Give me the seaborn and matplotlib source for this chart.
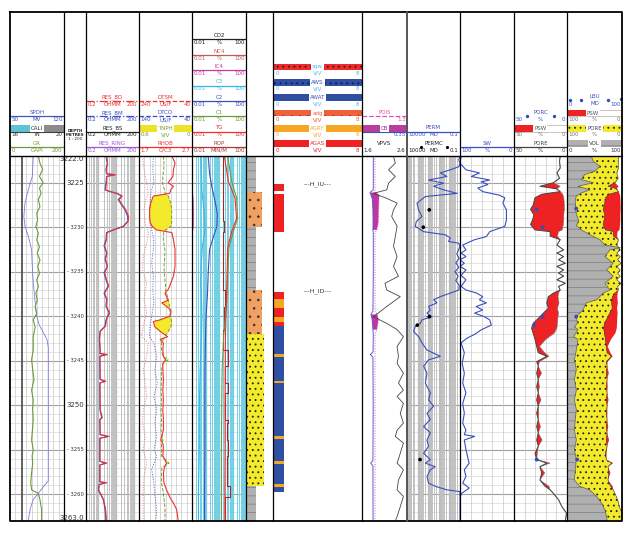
import numpy as np
import seaborn as sns
import matplotlib.pyplot as plt
from matplotlib.patches import Rectangle

sns.set_theme(style='white')
plt.rcParams['font.family'] = ['DejaVu Sans']
plt.rcParams['hatch.linewidth'] = 0.6

# ------------------------------------------------------------------ data
# track 1 : GR / SPDH / CALI
gr_depth = [3222.0, 3222.8, 3223.5, 3224.3, 3225.0, 3225.6, 3226.2, 3226.9, 3227.7, 3228.4,
            3229.2, 3229.9, 3230.7, 3231.4, 3232.2, 3232.9, 3233.7, 3234.4, 3235.2, 3235.9,
            3236.7, 3237.4, 3238.2, 3238.9, 3239.7, 3240.4, 3241.2, 3242.3, 3243.8, 3244.9,
            3246.0, 3247.1, 3248.3, 3249.4, 3250.5, 3251.6, 3252.8, 3253.9, 3255.0, 3255.7,
            3256.5, 3257.6, 3258.7, 3259.5, 3259.9, 3260.6, 3261.7, 3263.0]
gr = [105, 111, 121, 109, 123, 109, 115, 105, 111, 99,
      102, 96, 105, 99, 109, 101, 111, 103, 109, 99,
      105, 96, 101, 93, 99, 86, 93, 86, 86, 80,
      84, 89, 80, 86, 84, 86, 83, 80, 86, 82,
      84, 80, 77, 80, 105, 111, 117, 117]
sp_depth = [3222.0, 3224.3, 3225.8, 3227.3, 3228.8, 3229.9, 3231.0, 3232.5, 3234.4, 3236.3,
            3238.2, 3240.0, 3241.0, 3241.8, 3242.6, 3243.5, 3250.0, 3258.5, 3259.2, 3259.9,
            3260.6, 3261.7, 3263.0]
sp = [80.2, 78.9, 73.7, 69.4, 68.0, 69.4, 73.7, 78.0, 78.9, 80.2,
      82.4, 84.6, 88.0, 93.0, 98.0, 99.6, 99.6, 99.6, 92.8, 86.7,
      80.0, 76.0, 73.7]
cali_depth = [3222.0, 3263.0]
cali = [16.9, 16.9]

# track 3 : resistivity
res_depth = [3222.0, 3222.8, 3223.5, 3224.0, 3224.1, 3224.3, 3225.0, 3225.8, 3226.0, 3226.2,
             3226.5, 3226.9, 3227.5, 3228.0, 3228.8, 3229.3, 3229.9, 3230.3, 3230.6, 3231.4,
             3232.1, 3232.9, 3233.6, 3234.4, 3235.1, 3235.9, 3236.6, 3237.4, 3238.1, 3238.9,
             3239.6, 3240.4, 3241.1, 3241.7, 3242.6, 3243.8, 3244.2, 3244.3, 3244.5, 3247.1,
             3247.3, 3247.5, 3250.5, 3251.4, 3251.6, 3253.3, 3253.5, 3253.7, 3256.3, 3256.5,
             3256.7, 3258.6, 3258.7, 3258.9, 3259.5, 3260.2, 3260.6, 3261.7, 3263.0]
res_bm = [2.7, 3.2, 2.7, 2.9, 8.6, 2.9, 2.7, 2.4, 4.5, 10.9,
          20.7, 13.3, 20.7, 31.6, 46, 47, 25.6, 7.0, 2.9, 2.7,
          2.1, 2.9, 2.4, 3.2, 2.1, 2.7, 3.6, 2.1, 2.9, 2.7,
          4.1, 2.7, 2.4, 1.23, 1.13, 1.23, 1.2, 2.9, 1.2, 1.23,
          2.4, 1.2, 1.23, 1.54, 1.2, 1.23, 3.6, 1.2, 1.2, 2.7,
          1.2, 1.2, 2.7, 1.1, 1.0, 1.5, 1.9, 2.4, 2.7]
res_bd = [2.9, 3.4, 2.8, 3.0, 9.5, 3.0, 2.9, 2.6, 5.0, 12.0,
          23.0, 15.0, 23.0, 35.0, 52, 50, 28.0, 7.6, 3.1, 2.9,
          2.3, 3.1, 2.6, 3.4, 2.3, 2.9, 3.9, 2.3, 3.1, 2.9,
          4.4, 2.9, 2.6, 1.3, 1.2, 1.3, 1.25, 3.3, 1.25, 1.3,
          2.7, 1.25, 1.3, 1.7, 1.25, 1.3, 4.0, 1.25, 1.25, 3.0,
          1.25, 1.25, 3.0, 1.15, 1.05, 1.6, 2.0, 2.6, 2.9]

# track 4 : sonic / density / neutron
d4 = [3222.0, 3222.8, 3223.5, 3224.3, 3225.0, 3225.4, 3225.8, 3226.2, 3226.5, 3227.3,
      3228.0, 3228.8, 3229.5, 3229.9, 3230.3, 3230.6, 3231.4, 3232.5, 3233.6, 3234.4,
      3235.5, 3236.6, 3237.0, 3237.4, 3237.8, 3238.2, 3238.5, 3238.9, 3239.3, 3239.6,
      3240.0, 3240.4, 3240.6, 3240.8, 3241.2, 3241.7, 3242.3, 3242.6, 3243.0, 3243.8,
      3244.5, 3244.9, 3245.3, 3246.0, 3247.1, 3248.3, 3249.4, 3250.5, 3251.6, 3252.8,
      3253.9, 3254.3, 3254.7, 3255.7, 3256.5, 3257.0, 3257.6, 3258.7, 3259.5, 3260.3,
      3261.0, 3261.7, 3263.0]
rhob = [2.32, 2.38, 2.35, 2.34, 2.25, 2.35, 2.30, 2.28, 1.97, 1.92,
        1.90, 1.90, 1.91, 1.95, 2.03, 2.32, 2.35, 2.38, 2.38, 2.38,
        2.35, 2.28, 2.25, 2.19, 2.22, 2.25, 2.13, 2.22, 2.30, 2.30,
        2.28, 2.10, 1.97, 1.98, 2.00, 2.10, 2.24, 2.10, 2.16, 2.15,
        2.16, 2.20, 2.15, 2.15, 2.16, 2.15, 2.16, 2.15, 2.16, 2.16,
        2.11, 2.15, 2.16, 2.15, 2.22, 2.18, 2.16, 2.17, 2.22, 2.28,
        2.35, 2.41, 2.44]
tnph = [0.325, 0.317, 0.320, 0.330, 0.332, 0.325, 0.310, 0.306, 0.268, 0.240,
        0.230, 0.230, 0.230, 0.235, 0.300, 0.320, 0.325, 0.306, 0.310, 0.317,
        0.310, 0.300, 0.300, 0.287, 0.280, 0.268, 0.260, 0.255, 0.250, 0.249,
        0.245, 0.235, 0.230, 0.230, 0.240, 0.268, 0.310, 0.325, 0.345, 0.345,
        0.330, 0.270, 0.330, 0.345, 0.345, 0.350, 0.345, 0.350, 0.345, 0.350,
        0.330, 0.345, 0.345, 0.345, 0.260, 0.340, 0.345, 0.345, 0.330, 0.320,
        0.310, 0.306, 0.306]
dtsm_depth = [3222.0, 3223.5, 3225.0, 3226.2, 3226.9, 3228.0, 3229.5, 3230.6, 3231.8, 3233.3,
              3234.8, 3236.3, 3238.1, 3239.6, 3241.1, 3242.3, 3243.0, 3244.5, 3246.0, 3247.5,
              3249.0, 3250.5, 3252.0, 3253.5, 3255.0, 3256.5, 3258.0, 3259.5, 3261.0, 3263.0]
dtsm = [226, 221, 211, 205, 214, 221, 217, 205, 211, 224,
        226, 211, 221, 211, 224, 230, 205, 211, 224, 217,
        211, 224, 226, 217, 224, 211, 221, 224, 224, 224]
dtco_depth = [3222.0, 3223.5, 3225.0, 3226.2, 3227.3, 3228.8, 3230.3, 3231.4, 3232.5, 3234.0,
              3235.5, 3237.0, 3238.5, 3240.0, 3241.1, 3242.3, 3243.0, 3244.5, 3246.0, 3247.5,
              3249.0, 3250.5, 3252.0, 3253.5, 3255.0, 3255.7, 3257.2, 3258.7, 3260.2, 3261.7,
              3263.0]
dtco = [113, 114, 112, 118, 119, 120.5, 116, 112, 113, 116,
        113, 114, 112, 116, 119, 120.5, 112, 106.6, 110, 105.5,
        112, 106.6, 110, 106.6, 112, 106.6, 116, 112, 110, 106.6,
        108]

# track 5 : gas / ROP
c3_depth = [3222, 3224, 3226, 3227.5, 3229, 3230.5, 3232, 3234, 3236.3, 3238, 3240, 3242.3,
            3246, 3250, 3255, 3260, 3263]
c3 = [0.045, 0.05, 0.055, 0.07, 0.085, 0.09, 0.06, 0.05, 0.045, 0.05, 0.055, 0.05,
      0.04, 0.035, 0.035, 0.03, 0.03]
c2_depth = [3222, 3224, 3225.5, 3227, 3228.5, 3229.9, 3231, 3232.5, 3235, 3237.5, 3240, 3242.3,
            3246, 3250, 3255, 3260, 3263]
c2 = [0.16, 0.2, 0.3, 0.5, 0.75, 0.7, 0.4, 0.2, 0.16, 0.14, 0.11, 0.1,
      0.092, 0.09, 0.09, 0.085, 0.085]
hc_depth = [3222, 3224.85, 3226.7, 3229, 3230.5, 3232.3, 3235, 3238, 3240, 3242.3,
            3246, 3250, 3255, 3260, 3263]
tg = [2.5, 4.9, 15.4, 20, 8.7, 4.4, 4.0, 3.6, 3.3, 3.0, 2.9, 2.8, 2.8, 2.7, 2.7]
c1 = [4.4, 8.7, 20, 24, 11.4, 5.5, 4.5, 3.8, 3.0, 2.2, 1.7, 1.6, 1.5, 1.5, 1.5]
rop_top = [3222.0, 3226.3, 3229.3, 3230.5, 3232.5, 3237.0, 3239.0, 3241.5, 3243.8, 3245.6,
           3247.5, 3248.6, 3251.6, 3252.0, 3253.9, 3255.75, 3259.1, 3260.25, 3263.0]
rop = [1.9, 2.1, 2.5, 1.9, 2.1, 2.8, 2.5, 2.1, 4.9, 2.8,
       4.9, 2.8, 4.9, 3.7, 4.9, 3.7, 6.5, 2.8, 2.8]
ic4_depth = [3226.0, 3227.0, 3228.5, 3230.0, 3230.6]
ic4 = [0.0105, 0.012, 0.0125, 0.012, 0.0105]

# track 6 : lithology column
litho_top = [3222.0, 3226.0, 3230.0, 3237.0, 3242.0, 3259.1]
litho_base = [3226.0, 3230.0, 3237.0, 3242.0, 3259.1, 3263.0]
litho_kind = ['shale', 'sand_o', 'shale', 'sand_o', 'sand_y', 'shale']

# track 7 : fluid flags and markers
flag_top = [3225.2, 3226.3, 3237.3, 3238.1, 3239.1, 3240.1, 3240.6, 3241.1,
            3244.25, 3247.25, 3253.45, 3256.25, 3258.85]
flag_base = [3225.9, 3230.5, 3238.1, 3239.1, 3240.1, 3240.6, 3241.1, 3259.7,
             3244.55, 3247.55, 3253.75, 3256.55, 3259.15]
flag_kind = ['AGAS', 'AGAS', 'AGAS', 'AGRY', 'AGAS', 'AGRY', 'AGAS', 'AWAT',
             'AGRY', 'AGRY', 'AGRY', 'AGRY', 'AGRY']
marker_names = ['---H_IU---', '---H_ID---']
marker_depth = [3225.2, 3237.2]

# track 8 : CB / POIS / VPVS
d8 = [3222.0, 3225.8, 3226.1, 3226.4, 3226.8, 3228.0, 3229.5, 3230.3, 3230.6, 3231.0,
      3235.0, 3239.4, 3239.8, 3240.3, 3240.8, 3241.5, 3242.0, 3244.0, 3244.3, 3244.6,
      3250.0, 3256.2, 3256.5, 3256.8, 3263.0]
cb = [0.088, 0.088, 0.062, 0.070, 0.080, 0.085, 0.086, 0.085, 0.088, 0.088,
      0.088, 0.085, 0.070, 0.078, 0.082, 0.085, 0.088, 0.086, 0.065, 0.085,
      0.087, 0.085, 0.068, 0.085, 0.086]
pois = [0.376, 0.376, 0.40, 0.50, 0.49, 0.48, 0.47, 0.43, 0.376, 0.376,
        0.376, 0.376, 0.44, 0.47, 0.46, 0.43, 0.376, 0.376, 0.376, 0.376,
        0.376, 0.376, 0.376, 0.376, 0.376]
vpvs_depth = [3222.05, 3222.8, 3223.55, 3224.3, 3225.05, 3225.8, 3226.2, 3226.75, 3227.3, 3228.05,
              3228.8, 3229.9, 3231.05, 3232.15, 3233.3, 3234.4, 3235.5, 3236.3, 3237.05, 3237.8,
              3238.9, 3239.65, 3240.05, 3240.8, 3241.5, 3242.3, 3243.4, 3244.5, 3245.3, 3246.4,
              3247.5, 3248.3, 3249.0, 3249.8, 3250.9, 3252.0, 3252.8, 3253.5, 3254.25, 3255.4,
              3256.5, 3257.25, 3258.4, 3259.5, 3260.25, 3261.4, 3262.5, 3263.0]
vpvs = [2.30, 2.34, 2.19, 2.34, 2.19, 2.15, 1.85, 2.15, 2.38, 2.30,
        2.26, 2.38, 2.34, 2.30, 2.38, 2.30, 2.41, 2.11, 2.15, 2.45,
        2.15, 1.96, 1.85, 2.15, 2.38, 2.52, 2.38, 2.41, 2.38, 2.52,
        2.41, 2.52, 2.38, 2.52, 2.45, 2.52, 2.38, 2.34, 2.52, 2.45,
        2.38, 2.52, 2.41, 2.38, 2.52, 2.45, 2.38, 2.34]

# track 9 : permeability
perm_depth = [3222.0, 3222.4, 3222.9, 3223.2, 3223.55, 3223.9, 3224.3, 3224.7, 3225.05, 3225.4,
              3225.8, 3226.2, 3226.55, 3227.3, 3228.05, 3228.8, 3229.35, 3229.9, 3230.5, 3230.85,
              3231.2, 3231.6, 3231.8, 3232.15, 3233.0, 3233.5, 3234.0, 3234.5, 3235.0, 3235.5,
              3236.0, 3236.5, 3237.05, 3237.4, 3237.8, 3238.15, 3238.5, 3238.9, 3239.3, 3239.65,
              3240.05, 3240.4, 3240.8, 3241.15, 3241.7, 3242.3, 3243.0, 3243.8, 3244.5, 3244.9,
              3245.6, 3246.4, 3247.5, 3248.6, 3249.4, 3250.1, 3250.9, 3251.6, 3252.4, 3253.1,
              3253.9, 3254.6, 3255.4, 3256.1, 3256.5, 3256.9, 3257.25, 3258.0, 3258.75, 3259.1,
              3259.5, 3259.7, 3263.0]
perm = [0.1, 0.13, 0.1, 0.13, 0.82, 7.2, 1.7, 92, 3.5, 31,
        3.5, 0.19, 186, 1140, 800, 385, 1330, 1650, 270, 2.4,
        0.82, 1.2, 0.13, 0.1, 0.2, 0.12, 0.25, 0.13, 0.3, 0.15,
        0.25, 0.12, 0.13, 0.82, 7.2, 31, 15, 92, 63, 130,
        44, 385, 560, 1650, 2380, 800, 385, 130, 7.2, 92,
        270, 130, 186, 63, 92, 31, 130, 63, 270, 63,
        130, 92, 270, 63, 186, 22, 63, 130, 92, 22,
        1.7, 0.1, 0.1]
permc_depth = [3228.05, 3230.0, 3240.05, 3241.0, 3256.1]
permc = [79, 290, 79, 1070, 590]

# track 10 : water saturation
sw_depth = [3222.05, 3222.8, 3223.55, 3223.9, 3224.3, 3224.7, 3224.9, 3225.2, 3225.6, 3226.0,
            3226.4, 3226.7, 3227.3, 3228.05, 3229.2, 3229.9, 3230.5, 3231.05, 3231.4, 3232.0,
            3232.55, 3232.9, 3233.3, 3233.65, 3234.05, 3234.4, 3234.8, 3235.4, 3235.9, 3236.65,
            3237.05, 3237.4, 3237.8, 3238.15, 3238.5, 3238.9, 3239.3, 3239.65, 3240.05, 3240.4,
            3241.0, 3241.5, 3242.0, 3242.5, 3243.0, 3244.1, 3245.3, 3246.4, 3247.5, 3248.6,
            3249.8, 3250.9, 3252.0, 3252.8, 3253.3, 3253.5, 3253.9, 3255.0, 3256.5, 3257.25,
            3258.0, 3258.75, 3259.3, 3259.9, 3260.25, 3263.0]
sw = [98, 100, 89, 64, 79, 45, 61, 48.5, 67, 58,
      27, 17, 20.5, 14, 14, 17, 45, 51, 73, 95,
      89, 98, 89, 100, 92, 100, 89, 98, 89, 98,
      89, 69, 58, 64, 51, 70, 58, 73, 55, 45,
      42, 60, 72, 88, 98, 92, 96, 92, 95, 89,
      95, 92, 95, 89, 92, 73, 92, 89, 83, 92,
      89, 95, 83, 97, 100, 100]

# tracks 11-12 : porosity, water-filled porosity, shale volume
pore_depth = [3222.0, 3222.6, 3223.35, 3223.9, 3224.5, 3225.0, 3225.4, 3225.7, 3226.0, 3226.3,
              3226.7, 3227.5, 3228.0, 3228.6, 3229.15, 3229.7, 3230.3, 3230.5, 3231.0, 3231.4,
              3232.0, 3232.55, 3232.9, 3233.3, 3233.65, 3234.05, 3234.4, 3234.8, 3235.15, 3235.5,
              3235.9, 3236.3, 3236.65, 3237.05, 3237.4, 3237.8, 3238.5, 3239.1, 3239.65, 3240.05,
              3240.8, 3241.35, 3241.9, 3242.6, 3243.4, 3244.1, 3244.5, 3245.1, 3245.6, 3246.4,
              3247.1, 3247.9, 3248.6, 3249.4, 3250.1, 3250.9, 3251.6, 3252.4, 3253.1, 3253.9,
              3254.6, 3255.4, 3256.1, 3256.5, 3256.9, 3257.6, 3258.4, 3259.1, 3259.5, 3259.9,
              3260.6, 3261.4, 3262.1, 3263.0]
pore = [6.4, 7.0, 6.4, 9.5, 7.0, 12.8, 25.5, 9.5, 6.4, 23.9,
        30.2, 31.9, 34.4, 31.2, 32.4, 34.4, 30.2, 15.9, 15.9, 6.4,
        9.5, 3.2, 9.5, 3.2, 8.0, 1.6, 9.5, 3.2, 8.0, 3.2,
        9.5, 1.6, 8.0, 6.4, 12.8, 17.6, 19.1, 17.6, 22.3, 25.5,
        31.9, 33.4, 31.9, 30.2, 28.6, 27.1, 19.1, 28.6, 27.1, 28.6,
        27.1, 28.6, 27.1, 28.6, 27.1, 28.6, 27.1, 28.6, 27.1, 28.6,
        27.1, 30.2, 28.6, 19.1, 25.5, 23.9, 25.5, 20.7, 15.9, 12.8,
        8.0, 4.8, 0.5, 1.6]
psw = [6.4, 7.0, 6.4, 9.5, 7.0, 12.8, 6.4, 9.5, 6.4, 4.0,
       3.0, 2.5, 2.5, 3.0, 3.0, 3.5, 4.5, 8.0, 9.0, 6.4,
       9.5, 3.2, 9.5, 3.2, 8.0, 1.6, 9.5, 3.2, 8.0, 3.2,
       9.5, 1.6, 8.0, 6.4, 8.0, 8.5, 7.5, 9.0, 8.0, 8.5,
       9.0, 9.5, 12.0, 20.0, 26.0, 21.0, 17.0, 26.0, 27.1, 24.0,
       27.1, 26.0, 27.1, 24.5, 27.1, 26.5, 27.1, 25.0, 27.1, 23.5,
       27.1, 28.0, 28.6, 16.0, 25.5, 21.0, 25.5, 17.0, 15.9, 12.8,
       8.0, 4.8, 0.5, 1.6]
vsh_depth = [3222.0, 3222.6, 3223.15, 3223.7, 3224.1, 3224.65, 3225.0, 3225.4, 3225.8, 3226.15,
             3226.5, 3227.0, 3227.85, 3228.5, 3229.3, 3229.8, 3230.3, 3230.85, 3231.4, 3232.0,
             3232.15, 3232.3, 3232.55, 3233.3, 3234.05, 3234.8, 3235.5, 3236.3, 3237.05, 3237.4,
             3238.15, 3238.5, 3238.9, 3239.3, 3240.05, 3240.8, 3241.15, 3241.5, 3242.3, 3242.6,
             3243.8, 3244.9, 3246.0, 3247.1, 3248.3, 3249.4, 3250.5, 3251.6, 3252.8, 3253.9,
             3255.0, 3256.1, 3257.3, 3258.4, 3259.1, 3259.5, 3260.25, 3261.0, 3261.75, 3262.5,
             3263.0]
vsh = [44, 48, 60, 51, 32, 26, 48, 20, 42, 26,
       17, 15, 15.4, 17, 21.5, 17, 26, 42, 60, 69,
       84, 97, 78, 69, 84, 72, 84, 69, 78, 66,
       54, 35, 32, 29, 17, 19, 13.5, 20, 12, 20,
       17, 13.5, 17, 13.5, 17, 13.5, 17, 15, 13.5, 17,
       13.5, 17, 15, 13.5, 23, 41, 54, 63, 69, 72,
       73]
porc_depth = [3228.0, 3230.0, 3240.05, 3241.0, 3256.1]
porc = [28.6, 22.9, 22.9, 30.8, 28.6]
lbu_depth = [3227.9, 3240.05, 3256.1]
lbu = [16.7, 16.7, 18.5]

depth_ticks = [3222.0, 3225, 3230, 3235, 3240, 3245, 3250, 3255, 3260, 3263.0]
depth_text = ['3222.0', '3225', '- 3230', '- 3235', '- 3240', '- 3245', '3250', '- 3255',
              '- 3260', '3263.0']
depth_big = [True, True, False, False, False, False, True, False, False, True]

# ------------------------------------------------------------------ layout
W, H = 635, 534
TOP, SEP, BOT = 12, 156, 521
TOP_D, BOT_D = 3222.0, 3263.0
edges = [10, 64, 86, 139, 192, 246, 273, 362, 407, 460, 514, 567, 622]
ROW = [39.3, 54.8, 70.1, 85.5, 100.7, 116.3, 131.5, 146.9]
FS = 4.0

BLUE = '#3a4fc0'
RED = '#ee3030'
GREEN = '#6f9a3c'
CYAN = '#35b8e8'
ORANGE = '#f5a623'
YELLOW = '#f2ea2a'
SHALE = '#b0b0b0'
SHALE_DASH = '#858585'

fig = plt.figure(figsize=(6.35, 5.34), dpi=100)


def px_axes(x0, x1, y0, y1):
    ax = fig.add_axes([x0 / W, 1 - y1 / H, (x1 - x0) / W, (y1 - y0) / H])
    ax.set_axis_off()
    return ax


def body(i):
    ax = px_axes(edges[i], edges[i + 1], SEP, BOT)
    ax.set_ylim(BOT_D, TOP_D)
    return ax


def hdr(i):
    ax = px_axes(edges[i], edges[i + 1], TOP, SEP)
    ax.set_xlim(0, 1)
    ax.set_ylim(SEP, TOP)
    return ax


def lin(v, lo, hi):
    return (np.asarray(v, float) - lo) / (hi - lo)


def curve(ax, x, d, color, lw=0.8, ls='-', **kw):
    sns.lineplot(x=np.asarray(x, float), y=np.asarray(d, float), sort=False, estimator=None,
                 color=color, lw=lw, ls=ls, ax=ax, legend=False, zorder=3, **kw)


def depth_grid(ax):
    for d in range(3222, 3264):
        if d % 5 == 0:
            ax.axhline(d, color='#a0a0a0', lw=0.8, zorder=0)
        else:
            ax.axhline(d, color='#d4d4d4', lw=0.45, zorder=0)


def lin_grid(ax, lo, hi, n):
    for v in np.linspace(lo, hi, n + 1)[1:-1]:
        ax.axvline(v, color='#c8c8c8', lw=0.5, zorder=0)


def log_grid(ax, lo, hi, color, lw=0.55):
    for e in range(int(np.floor(np.log10(lo))), int(np.ceil(np.log10(hi))) + 1):
        for m in range(1, 10):
            v = m * 10.0 ** e
            if lo < v < hi:
                ax.axvline(v, color=color, lw=0.9 if m == 1 else lw, zorder=0)


def scale_text(ax, r, lo, unit, hi, color):
    y = ROW[r] + 3.3
    ax.text(0.03, y, lo, color=color, fontsize=FS, ha='left', va='center')
    ax.text(0.5, y, unit, color=color, fontsize=FS, ha='center', va='center')
    ax.text(0.97, y, hi, color=color, fontsize=FS, ha='right', va='center')


def hdr_curve(ax, r, name, color, lo, unit, hi, ls='-', line=True):
    if line:
        ax.plot([0, 1], [ROW[r], ROW[r]], color=color, lw=0.9, ls=ls)
    ax.text(0.5, ROW[r] - 3.6, name, color=color, fontsize=FS, ha='center', va='center')
    scale_text(ax, r, lo, unit, hi, color)


def hdr_bar(ax, r, name, fc, tc, lo, unit, hi, sc=None, hatch=None, hc='black', x1=1.0,
            lx=0.5):
    y0 = ROW[r] - 6.5
    ax.add_patch(Rectangle((0, y0), x1, 6.5, facecolor=fc, edgecolor=hc, lw=0, hatch=hatch))
    ax.text(lx, y0 + 3.25, name, color=tc, fontsize=FS, ha='center', va='center',
            bbox=dict(boxstyle='square,pad=0.15', fc='white', ec='none'))
    scale_text(ax, r, lo, unit, hi, sc or tc)


# ------------------------------------------------------------------ track 1
ax = body(0)
depth_grid(ax)
lin_grid(ax, 0, 1, 10)
curve(ax, lin(cali, 16, 20), cali_depth, '#555555', lw=1.3)
curve(ax, lin(sp, 50, 120), sp_depth, '#7a7ae0', lw=0.6)
curve(ax, lin(gr, 0, 200), gr_depth, '#6a9a38', lw=0.8)
ax.set_xlim(0, 1)
ax.set_ylim(BOT_D, TOP_D)

h = hdr(0)
hdr_curve(h, 5, 'SPDH', '#4455bb', '50', 'MV', '120')
h.add_patch(Rectangle((0, ROW[6] - 6.5), 0.5, 6.5, fc='#5cc4d4', lw=0))
h.add_patch(Rectangle((0.5, ROW[6] - 6.5), 0.5, 6.5, fc='#8c8c8c', lw=0))
h.text(0.5, ROW[6] - 3.25, 'CALI', color='#222222', fontsize=FS, ha='center', va='center',
       bbox=dict(boxstyle='square,pad=0.15', fc='white', ec='none'))
h.plot([0, 1], [ROW[6] + 0.4] * 2, color='#444444', lw=0.8)
scale_text(h, 6, '16', 'IN', '20', '#333333')
hdr_curve(h, 7, 'GR', GREEN, '0', 'GAPI', '200')

# ------------------------------------------------------------------ depth track
ax = body(1)
ax.set_xlim(0, 1)
for d, t, big in zip(depth_ticks, depth_text, depth_big):
    va = 'top' if d == TOP_D else ('bottom' if d == BOT_D else 'center')
    ax.text(0.92, d, t, fontsize=5.0 if big else 3.8, ha='right', va=va, color='#333333')
h = hdr(1)
h.text(0.5, 130.5, 'DEPTH', fontsize=3.0, ha='center', va='center', weight='bold')
h.text(0.5, 134.5, 'METRES', fontsize=3.0, ha='center', va='center', weight='bold')
h.text(0.5, 139.0, '1 : 200', fontsize=3.0, ha='center', va='center')

# ------------------------------------------------------------------ track 3
ax = body(2)
ax.set_xscale('log')
depth_grid(ax)
log_grid(ax, 0.2, 200, '#bdbdbd', lw=0.65)
curve(ax, res_bm, res_depth, BLUE, lw=0.8)
curve(ax, res_bd, res_depth, RED, lw=0.7)
ax.set_xlim(0.2, 200)
ax.set_ylim(BOT_D, TOP_D)

h = hdr(2)
hdr_curve(h, 4, 'RES_BD', RED, '0.2', 'OHMM', '200', ls='-.')
hdr_curve(h, 5, 'RES_BM', BLUE, '0.2', 'OHMM', '200', ls='-.')
hdr_curve(h, 6, 'RES_BS', '#222222', '0.2', 'OHMM', '200')
hdr_curve(h, 7, 'RES_RING', '#9a5ad0', '0.2', 'OHMM', '200')

# ------------------------------------------------------------------ track 4
ax = body(3)
depth_grid(ax)
lin_grid(ax, 0, 1, 10)
rn = lin(rhob, 1.7, 2.7)
tn = lin(tnph, 0.6, 0.0)
ax.fill_betweenx(d4, rn, tn, where=rn < tn, interpolate=True, color=YELLOW, lw=0, zorder=1)
curve(ax, lin(dtsm, 240, 40), dtsm_depth, '#e87a7a', lw=0.7, ls=':')
curve(ax, lin(dtco, 140, 40), dtco_depth, '#4a5ad0', lw=0.7, ls=':')
curve(ax, tn, d4, '#7a9a30', lw=0.7, ls='--')
curve(ax, rn, d4, RED, lw=0.8)
ax.set_xlim(0, 1)
ax.set_ylim(BOT_D, TOP_D)

h = hdr(3)
hdr_curve(h, 4, 'DTSM', RED, '240', 'US/F', '40', ls='--')
hdr_curve(h, 5, 'DTCO', BLUE, '140', 'US/F', '40', ls='--')
hdr_bar(h, 6, 'TNPH', '#efe32a', '#7a9a30', '0.6', 'V/V', '0')
hdr_curve(h, 7, 'RHOB', RED, '1.7', 'G/C3', '2.7')

# ------------------------------------------------------------------ track 5
ax = body(4)
ax.set_xscale('log')
depth_grid(ax)
log_grid(ax, 0.01, 100, '#72cfe4', lw=0.7)
curve(ax, ic4, ic4_depth, '#c83a9a', lw=0.8)
curve(ax, c3, c3_depth, CYAN, lw=0.8)
curve(ax, c2, c2_depth, BLUE, lw=0.8)
curve(ax, rop, rop_top, '#a02828', lw=0.8, drawstyle='steps-pre')
curve(ax, c1, hc_depth, GREEN, lw=0.8)
curve(ax, tg, hc_depth, RED, lw=0.8)
ax.set_xlim(0.01, 100)
ax.set_ylim(BOT_D, TOP_D)

h = hdr(4)
gas_hdr = [('CO2', '#222222', '%'), ('NC4', '#c05a5a', '%'), ('IC4', '#c83a9a', '%'),
           ('C3', CYAN, '%'), ('C2', BLUE, '%'), ('C1', GREEN, '%'), ('TG', RED, '%'),
           ('ROP', '#a83a3a', 'MIN/M')]
for r, (name, col, unit) in enumerate(gas_hdr):
    hdr_curve(h, r, name, col, '0.01', unit, '100')

# ------------------------------------------------------------------ track 6
ax = body(5)
litho_style = {'shale': (SHALE, SHALE_DASH, '--', 0.37),
               'sand_o': ('#f0a060', '#333333', '..', 0.58),
               'sand_y': (YELLOW, '#222222', '...', 0.68)}
for t, b, k in zip(litho_top, litho_base, litho_kind):
    fc, ec, hatch, w = litho_style[k]
    ax.barh((t + b) / 2, w, height=b - t, left=0.0, color=fc, edgecolor=ec, hatch=hatch, lw=0)
ax.set_xlim(0, 1)
ax.set_ylim(BOT_D, TOP_D)

# ------------------------------------------------------------------ track 7
ax = body(6)
flag_color = {'AGAS': '#ee2222', 'AGRY': ORANGE, 'AWAT': '#2f4fa3'}
for t, b, k in zip(flag_top, flag_base, flag_kind):
    ax.barh((t + b) / 2, 1.0, height=b - t, left=0.0, color=flag_color[k], lw=0)
for name, d in zip(marker_names, marker_depth):
    ax.text(4.0, d, name, fontsize=4.5, ha='center', va='center', color='#333333')
ax.set_xlim(0, 8)
ax.set_ylim(BOT_D, TOP_D)

h = hdr(6)
LB = '#58b4e8'
hdr_bar(h, 2, 'sgw', '#ee2a2a', LB, '0', 'V/V', '8', hatch='...', hc='#222222')
hdr_bar(h, 3, 'AWS', '#2f4fa3', BLUE, '0', 'V/V', '8', sc=LB, hatch='...', hc='#101a50')
hdr_bar(h, 4, 'AWAT', '#2f4fa3', BLUE, '0', 'V/V', '8', sc=LB)
hdr_bar(h, 5, 'adg', '#f0603a', '#f0603a', '0', 'V/V', '8', hatch='..', hc='#222222')
hdr_bar(h, 6, 'AGRY', ORANGE, ORANGE, '0', 'V/V', '8')
hdr_bar(h, 7, 'AGAS', '#ee2222', '#ee2222', '0', 'V/V', '8')

# ------------------------------------------------------------------ track 8
ax = body(7)
cn = lin(cb, 0, 0.35)
pn = lin(pois, 0, 1.3)
ax.fill_betweenx(d8, cn, pn, where=np.asarray(pois) > 0.38, color='#c0359f', lw=0, zorder=1)
curve(ax, cn, d8, '#5a5ad8', lw=0.7)
curve(ax, pn, d8, '#e050b0', lw=0.7, ls=':')
curve(ax, lin(vpvs, 1.6, 2.6), vpvs_depth, '#444444', lw=0.6)
ax.set_xlim(0, 1)
ax.set_ylim(BOT_D, TOP_D)

h = hdr(7)
hdr_curve(h, 5, 'POIS', '#e050b0', '', '', '1.3', ls='--')
hdr_bar(h, 6, 'CB', '#b8409c', '#8a2a8a', '', '', '0.35', sc=BLUE)
h.plot([0, 1], [ROW[6] + 0.4] * 2, color=BLUE, lw=0.8)
hdr_curve(h, 7, 'VPVS', '#222222', '1.6', '', '2.6', line=False)

# ------------------------------------------------------------------ track 9
ax = body(8)
ax.set_xscale('log')
depth_grid(ax)
log_grid(ax, 0.1, 10000, '#bdbdbd', lw=0.65)
curve(ax, perm, perm_depth, BLUE, lw=0.8)
sns.scatterplot(x=permc, y=permc_depth, color='black', s=7, edgecolor='none', ax=ax,
                legend=False, zorder=4)
ax.set_xlim(10000, 0.1)
ax.set_ylim(BOT_D, TOP_D)

h = hdr(8)
hdr_curve(h, 6, 'PERM', BLUE, '10000', 'MD', '0.1')
hdr_curve(h, 7, 'PERMC', '#222222', '10000', 'MD', '0.1', line=False)
h.scatter([0.26, 0.75], [ROW[7] - 0.3] * 2, s=5, color='black', lw=0)

# ------------------------------------------------------------------ track 10
ax = body(9)
depth_grid(ax)
lin_grid(ax, 0, 100, 5)
curve(ax, sw, sw_depth, BLUE, lw=0.8)
ax.set_xlim(100, 0)
ax.set_ylim(BOT_D, TOP_D)

h = hdr(9)
hdr_curve(h, 7, 'SW', BLUE, '100', '%', '0')

# ------------------------------------------------------------------ track 11
ax = body(10)
depth_grid(ax)
lin_grid(ax, 0, 50, 5)
pa, sa = np.asarray(pore, float), np.asarray(psw, float)
ax.fill_betweenx(pore_depth, pa, sa, where=pa > sa, interpolate=True, color='#ee2222', lw=0,
                 zorder=1)
curve(ax, psw, pore_depth, '#777777', lw=0.4)
curve(ax, pore, pore_depth, '#444444', lw=0.7)
sns.scatterplot(x=porc, y=porc_depth, color='#3050c0', s=8, edgecolor='none', ax=ax,
                legend=False, zorder=4)
ax.set_xlim(50, 0)
ax.set_ylim(BOT_D, TOP_D)

h = hdr(10)
hdr_curve(h, 5, 'PORC', BLUE, '50', '%', '0', line=False)
h.scatter([0.25, 0.75], [ROW[5]] * 2, s=6, color='#3050c0', lw=0)
h.add_patch(Rectangle((0, ROW[6] - 6.5), 1, 6.5, fc='white', ec='#bbbbbb', lw=0.6))
hdr_bar(h, 6, 'PSW', '#ee2222', '#555555', '50', '%', '0', sc='#777777', x1=0.36)
hdr_curve(h, 7, 'PORE', '#444444', '50', '%', '0')

# ------------------------------------------------------------------ track 12
ax = body(11)
ax.fill_betweenx(vsh_depth, 0, vsh, facecolor=SHALE, edgecolor=SHALE_DASH, hatch='--',
                 lw=0, zorder=1)
ax.fill_betweenx(vsh_depth, vsh, 100, facecolor=YELLOW, edgecolor='#222222', hatch='...',
                 lw=0, zorder=1)
pr, sr = 100 - pa, 100 - sa
ax.fill_betweenx(pore_depth, pr, 100, color='white', lw=0, zorder=2)
ax.fill_betweenx(pore_depth, pr, sr, where=pr < sr, interpolate=True, color='#ee2222', lw=0,
                 zorder=2)
curve(ax, vsh, vsh_depth, '#555555', lw=0.5)
curve(ax, pr, pore_depth, '#333333', lw=0.4)
sns.scatterplot(x=lbu, y=lbu_depth, color='#3050c0', s=8, edgecolor='none', ax=ax,
                legend=False, zorder=4)
ax.set_xlim(0, 100)
ax.set_ylim(BOT_D, TOP_D)

h = hdr(11)
h.text(0.5, 97.0, 'LBU', color=BLUE, fontsize=FS, ha='center', va='center')
h.text(0.5, 103.6, 'MD', color=BLUE, fontsize=FS, ha='center', va='center')
h.text(0.03, 104.0, '0', color=BLUE, fontsize=FS, ha='left', va='center')
h.text(0.97, 104.0, '100', color=BLUE, fontsize=FS, ha='right', va='center')
h.scatter([0.05, 0.25, 0.75, 0.985], [100.0, 100.0, 100.0, 98.5], s=6, color='#3050c0', lw=0)
h.add_patch(Rectangle((0, ROW[5] - 6.5), 1, 6.5, fc='white', ec='#bbbbbb', lw=0.6))
hdr_bar(h, 5, 'PSW', '#ee2222', '#555555', '100', '%', '0', sc='#777777', x1=0.34, lx=0.47)
hdr_bar(h, 6, 'PORE', YELLOW, '#444444', '100', '%', '0', sc='#777777', hatch='...',
        hc='#222222')
hdr_bar(h, 7, 'VOL', SHALE, '#333333', '0', '%', '100', sc='#333333', hatch='--',
        hc=SHALE_DASH)

# ------------------------------------------------------------------ frame
fr = fig.add_axes([0, 0, 1, 1], zorder=20)
fr.set_xlim(0, W)
fr.set_ylim(H, 0)
fr.set_axis_off()
fr.plot([10, 622, 622, 10, 10], [TOP, TOP, BOT, BOT, TOP], color='black', lw=1.3)
fr.plot([10, 622], [SEP, SEP], color='black', lw=1.0)
for x in edges[1:-1]:
    fr.plot([x, x], [TOP, BOT], color='#555555' if x == 407 else 'black',
            lw=1.4 if x == 407 else 0.9)

fig.savefig('out.png', dpi=100)
